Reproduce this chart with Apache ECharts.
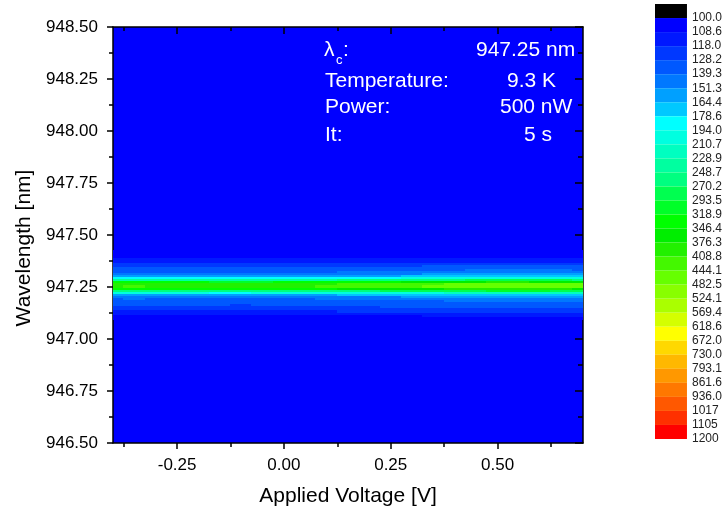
<!DOCTYPE html>
<html><head><meta charset="utf-8">
<script src="https://cdn.jsdelivr.net/npm/echarts@6/dist/echarts.min.js"></script>
<style>html,body{margin:0;padding:0;background:#fff}#c{width:725px;height:516px}</style>
</head><body><div id="c"></div>
<script>
// ---- data ----
const voltages = [-0.40,-0.35,-0.30,-0.25,-0.20,-0.15,-0.10,-0.05,0.00,0.05,0.10,0.15,0.20,0.25,0.30,0.35,0.40,0.45,0.50,0.55,0.60,0.65,0.70];
const peakByVoltage = [400,410,405,395,398,390,385,392,400,405,412,420,418,425,435,445,455,465,475,480,470,460,450];
const wavelengths = [947.42,947.41,947.40,947.39,947.38,947.37,947.36,947.35,947.34,947.33,947.32,947.31,947.30,947.29,947.28,947.27,947.26,947.25,947.24,947.23,947.22,947.21,947.20,947.19,947.18,947.17,947.16,947.15,947.14,947.13,947.12,947.11,947.10];
const lineProfile = [104,105,106,107,109,113,119,125,130,133,137,145,158,185,240,320,390,395,330,255,195,160,146,138,134,131,129,126,122,117,112,108,105];
const background = 104;
const levelLabels = ['100.0','108.6','118.0','128.2','139.3','151.3','164.4','178.6','194.0','210.7','228.9','248.7','270.2','293.5','318.9','346.4','376.3','408.8','444.1','482.5','524.1','569.4','618.6','672.0','730.0','793.1','861.6','936.0','1017','1105','1200'];
const levelBounds = levelLabels.map(Number);
const levelColors = ['#0000FF','#0018FF','#0038FF','#0058FF','#0078FF','#00A0FF','#00C8FF','#00FFFF','#00FFE0','#00FFC0','#00FFA0','#00FF80','#00FF50','#00FF28','#00FF00','#00EE00','#22F000','#44F800','#66FF00','#88FF00','#AAFF00','#D4FF00','#FFFF00','#FFD800','#FFB800','#FF9800','#FF7800','#FF5800','#FF3000','#FF0000'];
const underColor = '#000000';
const xMajorTicks = [-0.25, 0, 0.25, 0.5];
const xMinorTicks = [-0.375, -0.125, 0.125, 0.375, 0.625];
const infoNames = ['Temperature:', 'Power:', 'It:'];
const infoValues = ['947.25 nm', '9.3 K', '500 nW', '5 s'];

// ---- build cells ----
const refPeak = Math.max(...lineProfile);
const cells = [];
voltages.forEach((v, c) => {
  const g = (peakByVoltage[c] - background) / (refPeak - background);
  wavelengths.forEach((w, r) => {
    cells.push([v, w, +(background + (lineProfile[r] - background) * g).toFixed(1)]);
  });
});
const dv = 0.05, dw = 0.01;
const barColors = [underColor].concat(levelColors);

const FONT = "'Liberation Sans', Arial, sans-serif";
const chart = echarts.init(document.getElementById('c'), null, {renderer: 'canvas'});

const pieces = [{lt: levelBounds[0], color: underColor}];
levelColors.forEach((col, i) => pieces.push({gte: levelBounds[i], lt: levelBounds[i + 1], color: col}));
pieces.push({gte: levelBounds[levelBounds.length - 1], color: levelColors[levelColors.length - 1]});

const axisLine = {show: true, onZero: false, lineStyle: {color: '#000', width: 1.5}};
const noLine = {show: false, onZero: false};
const noSplit = {show: false};

const textInfo = [];
const rowY = [52, 83, 109, 137];
const valueX = [476, 507, 500, 524];
textInfo.push({type: 'text', left: 324, top: rowY[0] - 12, style: {text: 'λ', fill: '#fff', font: '21px ' + FONT}});
textInfo.push({type: 'text', left: 336, top: rowY[0] + 2, style: {text: 'c', fill: '#fff', font: '13px ' + FONT}});
textInfo.push({type: 'text', left: 343, top: rowY[0] - 12, style: {text: ':', fill: '#fff', font: '21px ' + FONT}});
infoNames.forEach((t, i) => textInfo.push({type: 'text', left: 325, top: rowY[i + 1] - 12, style: {text: t, fill: '#fff', font: '21px ' + FONT}}));
infoValues.forEach((t, i) => textInfo.push({type: 'text', left: valueX[i], top: rowY[i] - 12, style: {text: t, fill: '#fff', font: '21px ' + FONT}}));

chart.setOption({
  animation: false,
  backgroundColor: '#fff',
  textStyle: {fontFamily: FONT},
  grid: [
    {left: 113, top: 27, width: 470, height: 416, show: true, backgroundColor: '#0000FF', borderWidth: 0},
    {left: 655, top: 4, width: 34, height: 435}
  ],
  visualMap: {type: 'piecewise', show: false, dimension: 2, seriesIndex: 0, pieces: pieces},
  xAxis: [
    {gridIndex: 0, type: 'value', min: -0.4, max: 0.7, position: 'bottom', axisLine: axisLine,
     axisTick: {show: true, customValues: xMajorTicks, length: 6, lineStyle: {color: '#000', width: 1.5}},
     axisLabel: {show: true, customValues: xMajorTicks, formatter: v => v.toFixed(2), fontSize: 17, color: '#000', margin: 14, fontFamily: FONT},
     splitLine: noSplit, name: 'Applied Voltage [V]', nameLocation: 'middle', nameGap: 43,
     nameTextStyle: {fontSize: 21, color: '#000', fontFamily: FONT}},
    {gridIndex: 0, type: 'value', min: -0.4, max: 0.7, position: 'bottom', axisLine: noLine,
     axisTick: {show: true, customValues: xMinorTicks, length: 4, lineStyle: {color: '#000', width: 1.5}},
     axisLabel: {show: false}, splitLine: noSplit},
    {gridIndex: 0, type: 'value', min: -0.4, max: 0.7, position: 'top', axisLine: axisLine,
     axisTick: {show: true, inside: true, customValues: xMajorTicks, length: 7, lineStyle: {color: '#000', width: 1.5}},
     axisLabel: {show: false}, splitLine: noSplit},
    {gridIndex: 0, type: 'value', min: -0.4, max: 0.7, position: 'top', axisLine: noLine,
     axisTick: {show: true, inside: true, customValues: xMinorTicks, length: 4, lineStyle: {color: '#000', width: 1.5}},
     axisLabel: {show: false}, splitLine: noSplit},
    {gridIndex: 1, type: 'value', min: 0, max: 1, show: false}
  ],
  yAxis: [
    {gridIndex: 0, type: 'value', min: 946.5, max: 948.5, interval: 0.25, position: 'left', axisLine: axisLine,
     axisTick: {show: true, length: 6, lineStyle: {color: '#000', width: 1.5}},
     minorTick: {show: true, splitNumber: 2, length: 4, lineStyle: {color: '#000', width: 1.5}},
     axisLabel: {formatter: v => v.toFixed(2), fontSize: 17, color: '#000', margin: 15, fontFamily: FONT},
     splitLine: noSplit, minorSplitLine: {show: false},
     name: 'Wavelength [nm]', nameLocation: 'middle', nameGap: 78,
     nameTextStyle: {fontSize: 21, color: '#000', fontFamily: FONT, padding: [0, 26, 0, 0]}},
    {gridIndex: 0, type: 'value', min: 946.5, max: 948.5, interval: 0.25, position: 'right', axisLine: axisLine,
     axisTick: {show: true, inside: true, length: 8, lineStyle: {color: '#000', width: 1.5}},
     minorTick: {show: true, splitNumber: 2, length: 5, lineStyle: {color: '#000', width: 1.5}},
     axisLabel: {show: false}, splitLine: noSplit},
    {gridIndex: 1, type: 'value', min: 0, max: levelLabels.length, interval: 1, inverse: true, position: 'right',
     axisLine: {show: false}, axisTick: {show: false}, splitLine: noSplit,
     axisLabel: {show: true, fontSize: 12, color: '#222', margin: 5, fontFamily: FONT,
       formatter: v => { const i = Math.round(v) - 1; return i >= 0 ? levelLabels[i] : ''; }}}
  ],
  series: [
    {type: 'custom', xAxisIndex: 0, yAxisIndex: 0, clip: true, data: cells,
     renderItem: (params, api) => {
       const v = api.value(0), w = api.value(1);
       const a = api.coord([v - dv / 2, w + dw / 2]);
       const b = api.coord([v + dv / 2, w - dw / 2]);
       const x0 = Math.floor(a[0]), x1 = Math.ceil(b[0]);
       const y0 = Math.floor(a[1]), y1 = Math.ceil(b[1]);
       return {type: 'rect', shape: {x: x0, y: y0, width: x1 - x0, height: y1 - y0}, style: {fill: api.visual('color')}};
     }},
    {type: 'custom', xAxisIndex: 4, yAxisIndex: 2, clip: false, data: barColors.map((c, i) => [0, i]),
     renderItem: (params, api) => {
       const i = api.value(1);
       const a = api.coord([0, i]);
       const b = api.coord([1, i + 1]);
       return {type: 'rect', shape: {x: a[0], y: a[1], width: b[0] - a[0], height: b[1] - a[1]}, style: {fill: barColors[params.dataIndex]}};
     }}
  ],
  graphic: textInfo
});
</script></body></html>
